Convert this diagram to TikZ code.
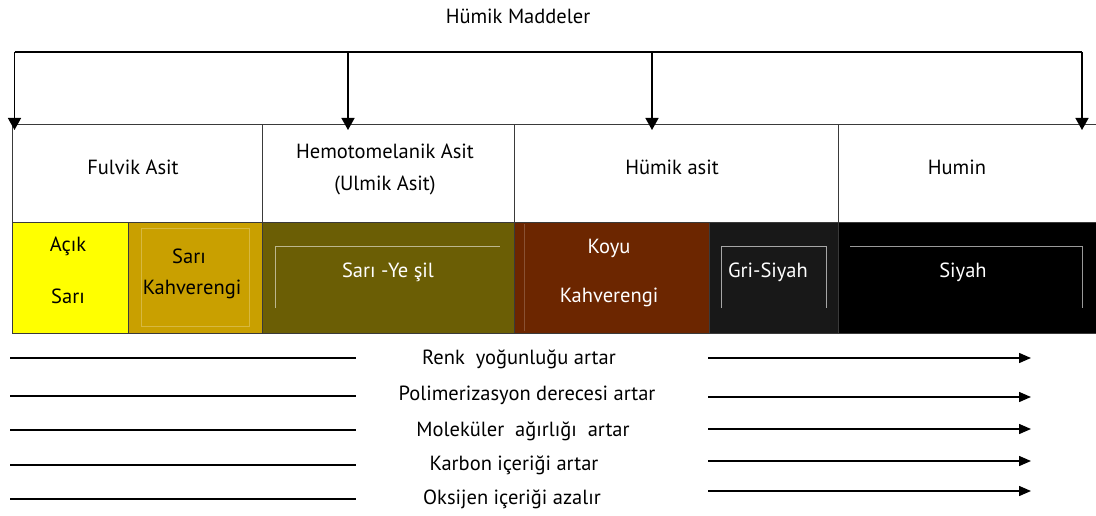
\documentclass[tikz,border=0pt]{standalone}
\usepackage{fontspec}
\setmainfont{PT Sans}
\usetikzlibrary{arrows.meta}
\definecolor{cyel}{HTML}{FFFF00}
\definecolor{cgold}{HTML}{C9A000}
\definecolor{colive}{HTML}{6B5E05}
\definecolor{cbrown}{HTML}{6C2600}
\definecolor{cgray}{HTML}{181818}
\definecolor{cblack}{HTML}{000000}
\definecolor{cline}{HTML}{3A3A3A}
\tikzset{
  txt/.style={font=\fontsize{20.5}{24}\selectfont, inner sep=0pt},
  hcell/.style={draw=cline, line width=1.2pt, rectangle, inner sep=0pt, anchor=north west, minimum height=98pt},
  ccell/.style={draw=cline, line width=1.2pt, rectangle, inner sep=0pt, anchor=north west, minimum height=111pt},
  arr/.style={line width=1.4pt, -{Triangle[length=12pt,width=10pt]}},
  toparr/.style={line width=1.4pt, -{Triangle[length=12pt,width=13pt]}, shorten >=-6pt},
  plain/.style={line width=1.4pt},
  inner/.style={line width=0.8pt}
}
\begin{document}
\begin{tikzpicture}[x=1pt,y=-1pt]
\useasboundingbox (0,0) rectangle (1096,516);
\fill[white] (0,0) rectangle (1096,516);

\node[txt] (title) at (518,16) {Hümik Maddeler};

% header cells
\node[hcell, minimum width=250pt] (h1) at (12,124) {};
\node[hcell, minimum width=252pt] (h2) at (262,124) {};
\node[hcell, minimum width=324pt] (h3) at (514,124) {};
\node[hcell, minimum width=262pt] (h4) at (838,124) {};
\node[txt] (fa) at (133,167) {Fulvik Asit};
\node[txt] (ha) at (385,151) {Hemotomelanik Asit};
\node[txt] (ua) at (385,185) {(Ulmik Asit)};
\node[txt] (hu) at (672,167) {Hümik asit};
\node[txt] (hm) at (957,167) {Humin};

% colour cells
\node[ccell, fill=cyel, minimum width=116pt] (c1) at (12,222) {};
\node[ccell, fill=cgold, minimum width=134pt] (c2) at (128,222) {};
\node[ccell, fill=colive, minimum width=252pt] (c3) at (262,222) {};
\node[ccell, fill=cbrown, minimum width=195pt] (c4) at (514,222) {};
\node[ccell, fill=cgray, minimum width=129pt] (c5) at (709,222) {};
\node[ccell, fill=cblack, minimum width=262pt] (c6) at (838,222) {};

% faint inner lines
\draw[inner, draw=cgold!75!white] (141,228) rectangle (249,326);
\draw[inner, draw=colive!45!white] (275,308) -- (275,246) -- (500,246);
\draw[inner, draw=cbrown!80!white] (524,224) -- (524,331);
\draw[inner, draw=gray!70] (721,308) -- (721,246) -- (826,246) -- (826,308);
\draw[inner, draw=gray!80] (850,246) -- (1082,246) -- (1082,308);

% colour labels
\node[txt] (t1a) at (68,246) {Açık};
\node[txt] (t1b) at (68,296) {Sarı};
\node[txt] (t2a) at (189,256) {Sarı};
\node[txt] (t2b) at (192,289) {Kahverengi};
\node[txt, text=white] (t3) at (388,272) {Sarı -Ye şil};
\node[txt, text=white] (t4a) at (609,248) {Koyu};
\node[txt, text=white] (t4b) at (609,297) {Kahverengi};
\node[txt, text=white] (t5) at (768,272) {Gri-Siyah};
\node[txt, text=white] (t6) at (963,272) {Siyah};

% top bracket with arrows
\coordinate (b1) at (14.5,52);
\coordinate (b2) at (348,52);
\coordinate (b3) at (652,52);
\coordinate (b4) at (1082,52);
\draw[plain] (b1) -- (b4);
\draw[toparr] (b1) -- (b1 |- h1.north);
\draw[toparr] (b2) -- (b2 |- h2.north);
\draw[toparr] (b3) -- (b3 |- h3.north);
\draw[toparr] (b4) -- (b4 |- h4.north);

% bottom rows
\node[txt] (r1) at (519,359) {Renk\ \ yoğunluğu artar};
\node[txt] (r2) at (527,395) {Polimerizasyon derecesi artar};
\node[txt] (r3) at (523,431) {Moleküler\ \ ağırlığı\ \ artar};
\node[txt] (r4) at (514,465) {Karbon içeriği artar};
\node[txt] (r5) at (512,499) {Oksijen içeriği azalır};

\foreach \y/\n in {358/1,396/2,430/3,465/4,499/5}{
  \coordinate (la\n) at (10,\y);
  \coordinate (lb\n) at (356,\y);
  \draw[plain] (la\n) -- (lb\n);
}
\foreach \y/\n in {358/1,397/2,429/3,461/4,491/5}{
  \coordinate (ra\n) at (708,\y);
  \coordinate (rb\n) at (1031,\y);
  \draw[arr] (ra\n) -- (rb\n);
}
\end{tikzpicture}
\end{document}
